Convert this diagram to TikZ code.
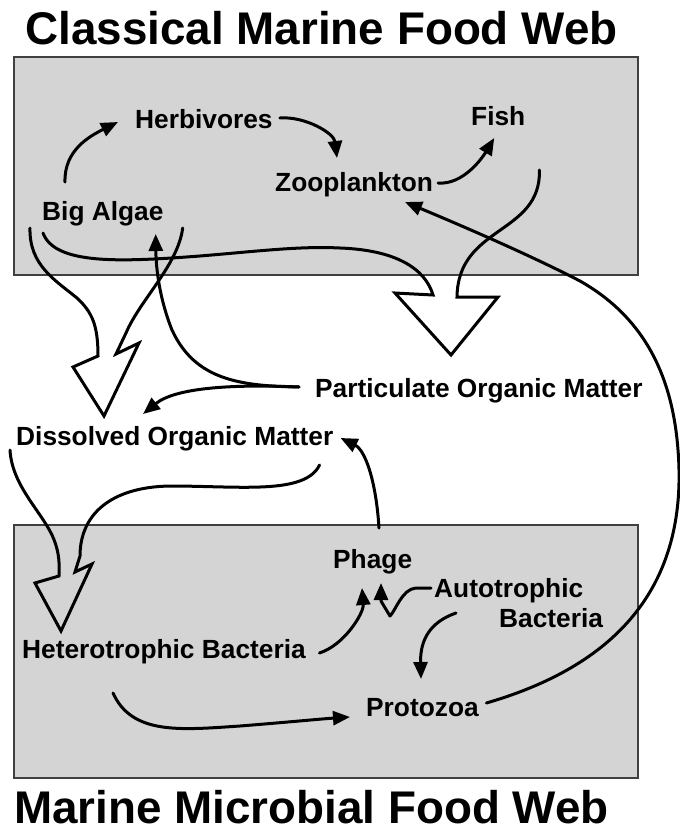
\documentclass[tikz,border=0pt]{standalone}
\usepackage{fontspec}
\setmainfont{Liberation Sans}
\usetikzlibrary{arrows.meta}
\begin{document}
\begin{tikzpicture}[x=1pt,y=-1pt,line cap=round,
	lbl/.style={inner sep=0pt,anchor=base west,font=\bfseries\fontsize{26.3}{30}\selectfont},
	ttl/.style={inner sep=0pt,anchor=base,font=\bfseries\fontsize{45.8}{50}\selectfont},
	foodbox/.style={draw=black!75,line width=1.2pt,fill=black!17},
	flow/.style={line width=3pt,line join=round,-{Triangle[length=17pt,width=14pt]}},
	hollow/.style={line width=3pt,line join=miter}]
	\useasboundingbox (0,0) rectangle (680,833);
	\draw[foodbox] (14,57) rectangle (638,275);
	\draw[foodbox] (14,525) rectangle (638,778);
	\node[ttl] (classic) at (321.5,44) {Classical Marine Food Web};
	\node[ttl] (micro) at (311.5,823) {Marine Microbial Food Web};
	\foreach \name/\x/\y/\txt in {herb/135/128/Herbivores,zoo/275/191/Zooplankton,fish/471/125/Fish,
		algae/42/220/Big Algae,pom/315/397/Particulate Organic Matter,dom/16/445/Dissolved Organic Matter,
		phage/333/568/Phage,autoa/434/597/Autotrophic,autob/499/627/Bacteria,
		hetero/22/658/Heterotrophic Bacteria,proto/366/716/Protozoa}{
		\node[lbl] (\name) at (\x,\y) {\txt};
	}
	\draw[flow] ([shift={(23,-38)}]algae.base west) .. controls +(-1,-32) and +(-28,14) .. ([shift={(-17,-6)}]herb.base west);
	\draw[flow] ([shift={(7,-10)}]herb.base east) .. controls +(25,-2) and +(-3,-25) .. ([shift={(62,-33)}]zoo.base west);
	\draw[flow] ([shift={(5,-8)}]zoo.base east) .. controls +(25,2) and +(-12,20) .. ([shift={(-4,13)}]fish.base);
	\draw[hollow] ([shift={(1,13)}]algae.base west) .. controls (55,265) and (120,262) .. (200,256)
		.. controls (260,251) and (300,246) .. (340,248) .. controls (395,250) and (425,268) .. (433,295)
		-- (395,293) -- ([shift={(136,-42)}]pom.base west) -- (498,297) -- (457,297)
		.. controls (458,225) and (541,235) .. ([shift={(14,45)}]fish.base east);
	\draw[hollow] ([shift={(-12,8)}]algae.base west) .. controls (29,265) and (55,280) .. (77,298)
		.. controls (92,312) and (98,325) .. (98,356) -- (73,367) -- ([shift={(88,-29)}]dom.base west)
		-- (139,343) -- (116,354) -- (126,333) .. controls (140,300) and (178,265) .. ([shift={(19,8)}]algae.base east);
	\draw[flow] ([shift={(-16,-10)}]pom.base west) .. controls (240,386) and (195,380) .. (172,330)
		.. controls (160,300) and (156,270) .. ([shift={(-8,14)}]algae.base east);
	\draw[flow] ([shift={(-16,-10)}]pom.base west) .. controls (230,384) and (175,388) .. ([shift={(127,-31)}]dom.base west);
	\draw[hollow] ([shift={(-6,5)}]dom.base west) .. controls (12,485) and (40,510) .. (52,535)
		.. controls (58,548) and (60,560) .. (59,576) -- (35,583) -- ([shift={(39,-27)}]hetero.base west)
		-- (92,564) -- (75,572) -- (80,556) .. controls (80,515) and (110,487) .. (170,486)
		.. controls (240,486) and (305,495) .. ([shift={(-14,20)}]dom.base east);
	\draw[flow] ([shift={(46,-40)}]phage.base west) .. controls (376,480) and (365,450) .. ([shift={(7,-7)}]dom.base east);
	\draw[flow] ([shift={(13.5,-5)}]hetero.base east) .. controls +(25,-8) and +(2,25) .. ([shift={(29,20)}]phage.base west);
	\draw[flow] ([shift={(-3,-9)}]autoa.base west) -- (416,588) .. controls (402,589) and (396,610) .. (390,616)
		-- (381,601) -- ([shift={(48,15)}]phage.base west);
	\draw[flow] ([shift={(22,16)}]autoa.base west) .. controls (430,622) and (420,640) .. ([shift={(55,-37)}]proto.base west);
	\draw[flow] ([shift={(91,35)}]hetero.base west) .. controls (132,735) and (180,730) .. (240,726)
		.. controls (290,722) and (320,719) .. ([shift={(-16,1)}]proto.base west);
	\draw[flow] ([shift={(7.5,-13)}]proto.base east) .. controls (600,670) and (690,600) .. (678,450)
		.. controls (672,370) and (640,315) .. (580,281) .. controls (530,255) and (460,225) .. ([shift={(130,11)}]zoo.base west);
\end{tikzpicture}
\end{document}
